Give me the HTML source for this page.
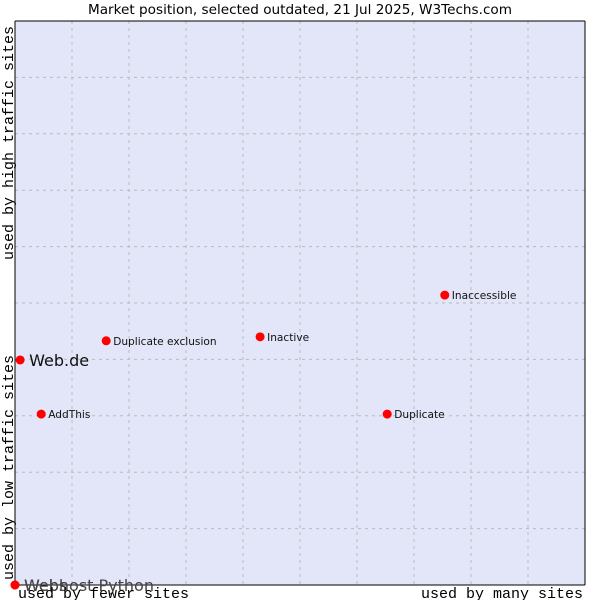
<!DOCTYPE html>
<html><head><meta charset="utf-8"><style>
body{margin:0;background:#fff}
svg text{font-family:"DejaVu Sans","Liberation Sans",sans-serif}
</style></head><body>
<svg id="c" width="600" height="600" xmlns="http://www.w3.org/2000/svg">
<text x="300" y="14" text-anchor="middle" font-size="13.6" fill="#000">Market position, selected outdated, 21 Jul 2025, W3Techs.com</text>
<rect x="15" y="21" width="570" height="564" fill="#e3e5f8"/>
<g id="grid"></g>
<line x1="15" y1="21" x2="585" y2="21" stroke="#000"/>
<line x1="15" y1="21" x2="15" y2="585" stroke="#000"/>
<line x1="15" y1="585" x2="585" y2="585" stroke="#000"/>
<line x1="585" y1="21" x2="585" y2="585" stroke="#000"/>
<g id="pts"></g>
<text x="18" y="598" style="font-family:'Liberation Mono',monospace" font-size="15">used by fewer sites</text>
<text x="583" y="598" text-anchor="end" style="font-family:'Liberation Mono',monospace" font-size="15">used by many sites</text>
<text transform="translate(13,580) rotate(-90)" style="font-family:'Liberation Mono',monospace" font-size="15">used by low traffic sites</text>
<text transform="translate(13,260) rotate(-90)" style="font-family:'Liberation Mono',monospace" font-size="15">used by high traffic sites</text>
</svg>
<script>
const names=["Web.de","AddThis","Duplicate exclusion","Inactive","Inaccessible","Duplicate","Webs","Webhost Python"];
const xVals=[0.9,4.6,16,43,75.4,65.3,0,0];
const yVals=[39.9,30.3,43.3,44,51.4,30.3,0,0];
const big=[1,0,0,0,0,0,1,1];
const ns="http://www.w3.org/2000/svg";
const X=v=>15+v*5.7, Y=v=>585-v*5.64;
const grid=document.getElementById('grid');
for(let i=1;i<10;i++){
 const l=document.createElementNS(ns,'line');
 l.setAttribute('x1',X(i*10));l.setAttribute('x2',X(i*10));l.setAttribute('y1',21);l.setAttribute('y2',585);
 l.setAttribute('stroke','#bbb');l.setAttribute('stroke-dasharray','3,4');
 
 
 grid.appendChild(l);
 const h=document.createElementNS(ns,'line');
 h.setAttribute('y1',Y(i*10));h.setAttribute('y2',Y(i*10));h.setAttribute('x1',15);h.setAttribute('x2',585);
 h.setAttribute('stroke','#bbb');h.setAttribute('stroke-dasharray','3,4');
 
 
 grid.appendChild(h);
}
const pts=document.getElementById('pts');
names.forEach((n,i)=>{
 const x=X(xVals[i]),y=Y(yVals[i]);
 const d=document.createElementNS(ns,'circle');
 d.setAttribute('cx',x);d.setAttribute('cy',y);d.setAttribute('r',4.5);
 d.setAttribute('fill','#f00');
 
 
 pts.appendChild(d);
 const t=document.createElementNS(ns,'text');
 t.setAttribute('x',x+(big[i]?9:7));t.setAttribute('y',y+(big[i]?6:4));
 t.setAttribute('font-size',big[i]?16:10.6);
 t.setAttribute('fill',(i>=6)?'#444':'#111');
 t.textContent=n;
 
 
 pts.appendChild(t);
});
</script>
</body></html>
